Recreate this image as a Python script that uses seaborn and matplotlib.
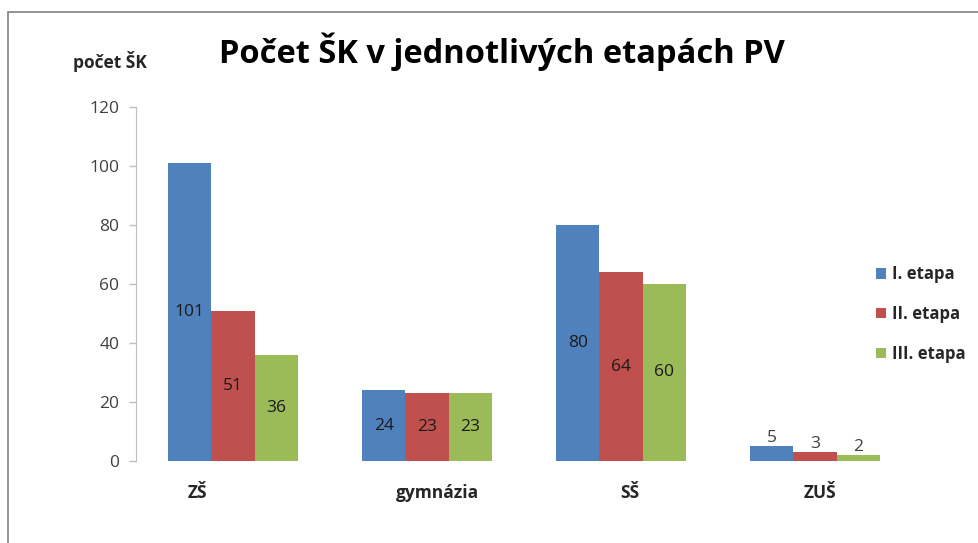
import pandas as pd
import numpy as np
import matplotlib
matplotlib.use('Agg')
import matplotlib.pyplot as plt
import seaborn as sns
from matplotlib.patches import Rectangle
from matplotlib.transforms import offset_copy

# data
categories = ['ZŠ', 'gymnázia', 'SŠ', 'ZUŠ']
stages = ['I. etapa', 'II. etapa', 'III. etapa']
etapa_1 = [101, 24, 80, 5]
etapa_2 = [51, 23, 64, 3]
etapa_3 = [36, 23, 60, 2]
y_ticks = [0, 20, 40, 60, 80, 100, 120]

colors = ['#4F81BD', '#C0504D', '#9BBB59']

df = pd.DataFrame({
    'kategorie': categories * 3,
    'etapa': np.repeat(stages, len(categories)),
    'pocet': etapa_1 + etapa_2 + etapa_3,
})

sns.set_style('white')
plt.rcParams['font.family'] = ['Open Sans', 'DejaVu Sans']

fig = plt.figure(figsize=(9.79, 5.43), dpi=100)
ax = fig.add_axes([136 / 979, 1 - 461 / 543, 776 / 979, 354 / 543])

sns.barplot(data=df, x='kategorie', y='pocet', hue='etapa', order=categories,
            hue_order=stages, palette=colors, width=0.67, gap=0, saturation=1,
            edgecolor='none', ax=ax, legend=True)

# value labels: centered inside, above for the tiny ZUŠ bars
for cont in ax.containers:
    vals = cont.datavalues
    ax.bar_label(cont, labels=[f'{v:.0f}' if v >= 10 else '' for v in vals],
                 label_type='center', fontsize=12.5, color='#1a1a1a')
    ax.bar_label(cont, labels=[f'{v:.0f}' if v < 10 else '' for v in vals],
                 label_type='edge', padding=0, fontsize=12.5, color='#404040')

ax.set_ylim(0, 120)
ax.set_yticks(y_ticks)
ax.set_xlim(-0.5, len(categories) - 0.5)
ax.tick_params(axis='y', length=5, width=1, color='#BFBFBF', labelsize=12.5,
               labelcolor='#404040', left=True, pad=7)
ax.set_xticks([])
ax.set_xlabel('')
ax.set_ylabel('')
for s in ['top', 'right', 'bottom']:
    ax.spines[s].set_visible(False)
ax.spines['left'].set_color('#BFBFBF')

# category labels (slightly shifted like in the original)
label_shift = [-36, 10, 9, 5]
for i, (cat, dx) in enumerate(zip(categories, label_shift)):
    tr = offset_copy(ax.get_xaxis_transform(), fig=fig, x=dx, y=0, units='dots')
    ax.text(i, -0.09, cat, transform=tr, ha='center', va='center',
            fontsize=12.5, fontweight='bold', color='#262626')

fig.text(502 / 979, 1 - 52 / 543, 'Počet ŠK v jednotlivých etapách PV',
         ha='center', va='center', fontsize=23.5, fontweight='bold', color='black')
fig.text(110 / 979, 1 - 62 / 543, 'počet ŠK', ha='center', va='center',
         fontsize=12.5, fontweight='bold', color='#262626')

handles, labels = ax.get_legend_handles_labels()
ax.legend(handles, labels, loc='center left', bbox_to_anchor=(861 / 979, 1 - 314 / 543),
          bbox_transform=fig.transFigure, frameon=False, handlelength=0.6,
          handleheight=0.6, handletextpad=0.35, labelspacing=1.3,
          prop={'weight': 'bold', 'size': 12})
for t in ax.get_legend().get_texts():
    t.set_color('#262626')

# grey outer frame like the original screenshot
fig.patches.append(Rectangle((8 / 979, -0.1), 1.2, 1 - 12 / 543 + 0.1,
                             transform=fig.transFigure, fill=False,
                             edgecolor='#808080', linewidth=1.2))

fig.savefig('out.png', dpi=100)
